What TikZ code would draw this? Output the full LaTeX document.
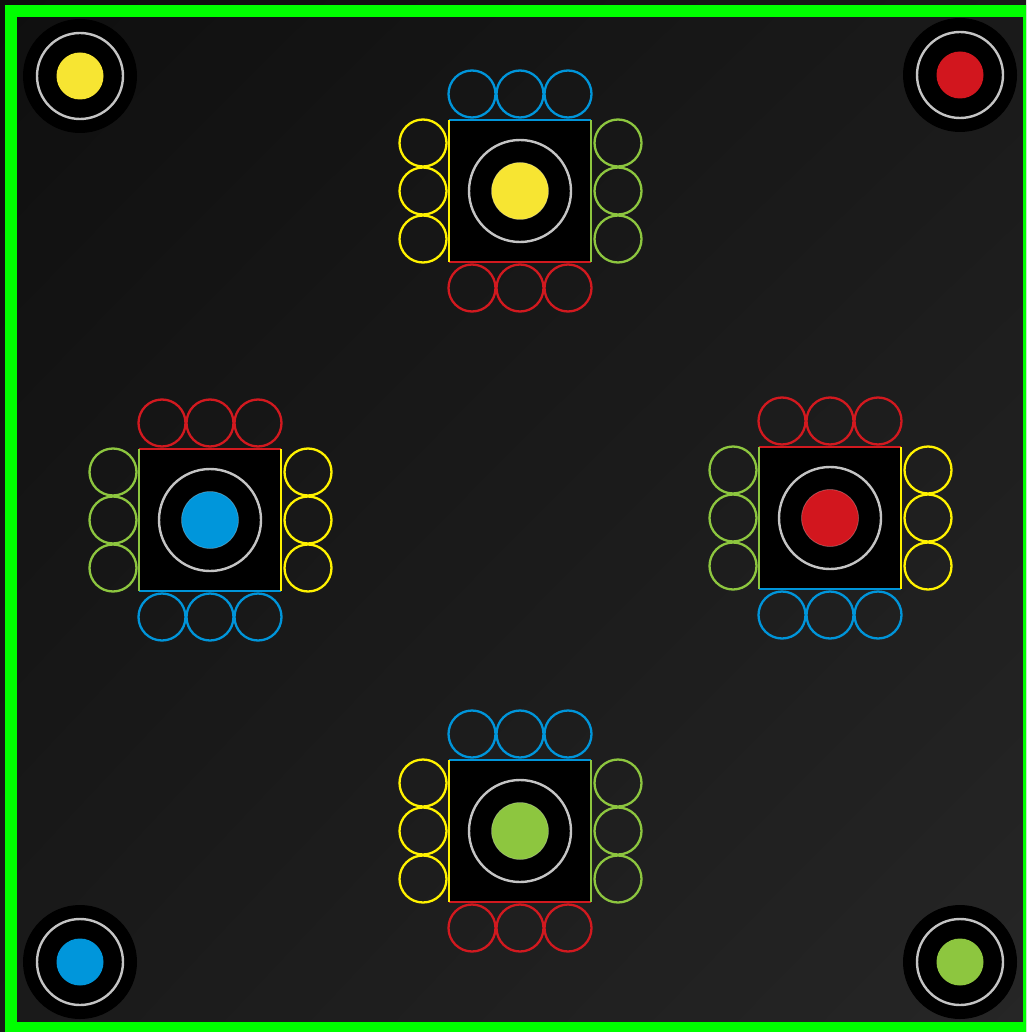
\documentclass[tikz,border=0pt]{standalone}
\usetikzlibrary{calc,shadings}

\definecolor{ludored}{HTML}{D2191F}
\definecolor{ludogreen}{HTML}{8DC63F}
\definecolor{ludoblue}{HTML}{0095DA}
\definecolor{ludoyellow}{HTML}{FFF200}
\definecolor{tokenred}{HTML}{D2161E}
\definecolor{tokengreen}{HTML}{8DC63F}
\definecolor{tokenblue}{HTML}{0096DB}
\definecolor{tokenyellow}{HTML}{F7E532}
\definecolor{ringgrey}{HTML}{C4C4C4}
\definecolor{framegreen}{HTML}{00FF00}
\definecolor{bgdark}{HTML}{0F0F0F}
\definecolor{bgmid}{HTML}{1A1A1A}
\definecolor{bglight}{HTML}{262626}

\begin{document}
\begin{tikzpicture}[
  x=1pt, y=-1pt,
  line cap=round, line join=round,
  ring/.style={draw=ringgrey, line width=2.4pt},
  slot/.style={line width=2.3pt},
  edge/.style={line width=1.8pt, line cap=butt}
]
\useasboundingbox (0,0) rectangle (1026,1032);
\clip (0,0) rectangle (1026,1032);

% 背景与边框
\shade[upper left=bgdark, upper right=bgmid, lower left=bgmid, lower right=bglight]
  (0,0) rectangle (1026,1032);
\draw[framegreen, line width=12pt, line cap=butt, line join=miter]
  (11,11) rectangle (1029,1028);

% 四角的起点
\foreach \cx/\cy/\cc in {80/76/yellow, 960/75/red, 80/962/blue, 960/962/green} {
  \fill[black] (\cx,\cy) circle[radius=57pt];
  \draw[ring] (\cx,\cy) circle[radius=43pt];
  \fill[token\cc] (\cx,\cy) circle[radius=23.5pt];
}

% 四个基地（上、左、右、下各边的颜色，中心棋子颜色）
\foreach \cx/\cy/\ct/\cl/\cr/\cb/\cc in {
    520/191/blue/yellow/green/red/yellow,
    210/520/red/green/yellow/blue/blue,
    830/518/red/green/yellow/blue/red,
    520/831/blue/yellow/green/red/green} {
  \fill[black] ({\cx-71},{\cy-71}) rectangle ({\cx+71},{\cy+71});
  \draw[edge, ludo\ct] ({\cx-71},{\cy-71}) -- ({\cx+71},{\cy-71});
  \draw[edge, ludo\cb] ({\cx-71},{\cy+71}) -- ({\cx+71},{\cy+71});
  \draw[edge, ludo\cl] ({\cx-71},{\cy-71}) -- ({\cx-71},{\cy+71});
  \draw[edge, ludo\cr] ({\cx+71},{\cy-71}) -- ({\cx+71},{\cy+71});
  % 周围的格子
  \foreach \k in {-1,0,1} {
    \draw[slot, ludo\ct] ({\cx+48*\k},{\cy-97}) circle[radius=23.5pt];
    \draw[slot, ludo\cb] ({\cx+48*\k},{\cy+97}) circle[radius=23.5pt];
    \draw[slot, ludo\cl] ({\cx-97},{\cy+48*\k}) circle[radius=23.5pt];
    \draw[slot, ludo\cr] ({\cx+98},{\cy+48*\k}) circle[radius=23.5pt];
  }
  \draw[ring] (\cx,\cy) circle[radius=51pt];
  \fill[token\cc] (\cx,\cy) circle[radius=28.5pt];
  \draw[white, opacity=0.25, line width=0.8pt] (\cx,\cy) circle[radius=28.5pt];
}
\end{tikzpicture}
\end{document}
